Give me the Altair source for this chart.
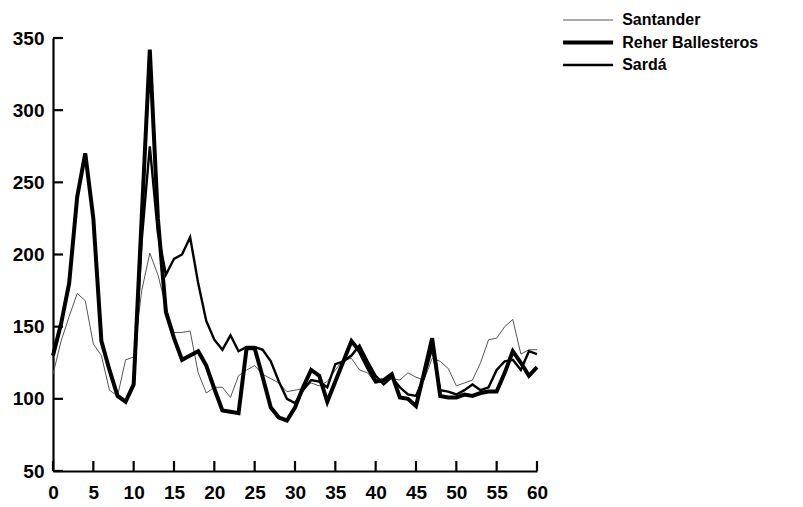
import altair as alt
import pandas as pd

# x positions (0..60)
x_vals = list(range(61))

santander = [117, 140, 157, 173, 168, 138, 130, 106, 102, 127, 129,
             175, 201, 186, 164, 146, 146, 147, 118, 104, 108,
             108, 101, 116, 120, 123, 117, 114, 111, 105, 106,
             107, 111, 109, 112, 120, 127, 128, 120, 118, 111,
             112, 114, 113, 118, 115, 113, 128, 126, 121, 109,
             111, 113, 125, 141, 142, 150, 155, 131, 134, 134]

reher = [130, 152, 180, 240, 270, 225, 140, 120, 102, 98, 110,
         226, 342, 225, 160, 142, 127, 130, 133, 123, 107,
         92, 91, 90, 135, 135, 115, 94, 87, 85, 94,
         108, 120, 116, 98, 112, 126, 140, 133, 122, 112,
         113, 117, 101, 100, 95, 118, 142, 102, 101, 101,
         103, 102, 104, 105, 105, 118, 133, 125, 116, 122]

sarda = [130, 152, 180, 240, 270, 225, 140, 120, 102, 98, 110,
         210, 275, 215, 186, 197, 200, 212, 180, 154, 141,
         134, 144, 133, 136, 136, 134, 126, 112, 100, 97,
         106, 113, 112, 108, 124, 126, 130, 137, 126, 116,
         110, 115, 108, 103, 102, 115, 135, 106, 105, 103,
         106, 110, 106, 108, 120, 126, 127, 120, 133, 131]

series_names = ["Santander", "Reher Ballesteros", "Sardá"]
x_ticks = list(range(0, 61, 5))
y_ticks = [50, 100, 150, 200, 250, 300, 350]

rows = []
for name, vals in zip(series_names, [santander, reher, sarda]):
    for xv, yv in zip(x_vals, vals):
        rows.append({"x": xv, "v": yv, "series": name})
df = pd.DataFrame(rows)

FONT = "Liberation Sans"
W, H = 484, 433

xscale = alt.Scale(domain=[0, 60], nice=False, zero=False)
yscale = alt.Scale(domain=[50, 350], nice=False, zero=False)

legend = alt.Legend(
    title=None, orient="none", legendX=524.6, legendY=-27,
    symbolType="M-3,0H3", symbolSize=278, symbolStrokeColor="black",
    labelFont=FONT, labelFontSize=16, labelFontWeight="bold", labelColor="black",
    labelOffset=23.6, rowPadding=4, labelLimit=300,
)

base = alt.Chart(df).mark_line(strokeJoin="miter", strokeMiterLimit=4).encode(
    x=alt.X("x:Q", scale=xscale,
            axis=alt.Axis(values=x_ticks, ticks=False, labelPadding=12,
                          labelFont=FONT, labelFontSize=19, labelFontWeight="bold",
                          labelColor="black", domainColor="black", domainWidth=2.2,
                          grid=False, title=None, labelFlush=False)),
    y=alt.Y("v:Q", scale=yscale,
            axis=alt.Axis(values=y_ticks, ticks=False, labelPadding=9,
                          labelFont=FONT, labelFontSize=19, labelFontWeight="bold",
                          labelColor="black", domainColor="black", domainWidth=2.2,
                          grid=False, title=None, labelFlush=False)),
    strokeWidth=alt.StrokeWidth("series:N",
                                scale=alt.Scale(type="ordinal", domain=series_names,
                                                range=[1.0, 4.0, 2.4]),
                                legend=legend),
    color=alt.Color("series:N",
                    scale=alt.Scale(domain=series_names,
                                    range=["#555555", "#000000", "#000000"]),
                    legend=legend),
)

layers = [base.transform_filter(alt.datum.series == s)
          for s in ["Santander", "Sardá", "Reher Ballesteros"]]

xt = pd.DataFrame({"t": x_ticks})
yt = pd.DataFrame({"t": y_ticks})

x_tick_marks = alt.Chart(xt).mark_rule(color="black", strokeWidth=2.2).encode(
    x=alt.X("t:Q", scale=xscale), y=alt.value(H), y2=alt.value(H - 10))

y_tick_marks = alt.Chart(yt).mark_rule(color="black", strokeWidth=2.2).encode(
    y=alt.Y("t:Q", scale=yscale), x=alt.value(0), x2=alt.value(10))

chart = alt.layer(*layers, x_tick_marks, y_tick_marks).properties(
    width=W, height=H,
    autosize=alt.AutoSizeParams(type="none"),
    padding={"left": 53, "top": 38, "right": 266, "bottom": 36},
).configure_view(stroke=None)

chart.save("out.html", embed_options={"renderer": "svg", "actions": False})
